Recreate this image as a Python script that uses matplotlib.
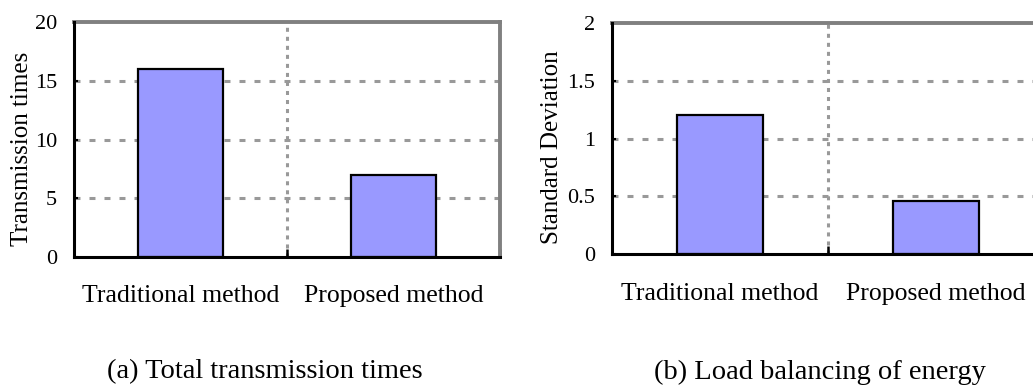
import matplotlib.pyplot as plt

plt.rcParams['font.family'] = ['Liberation Serif', 'DejaVu Serif']
plt.rcParams['lines.scale_dashes'] = False

# data
categories = ['Traditional method', 'Proposed method']
transmission_times = [16, 7]
std_deviation = [1.2, 0.46]

fig = plt.figure(figsize=(10.33, 3.9), dpi=100)

# axes boxes in figure fractions (left, bottom, width, height)
ax1 = fig.add_axes([0.0716, 0.341, 0.4124, 0.6026])
ax2 = fig.add_axes([0.5924, 0.3487, 0.4182, 0.5923])


def style_axes(ax, values, ymax, step, ticklabels, label_pad):
    x = range(len(values))
    ax.bar(x, values, width=0.4, color='#9999ff', edgecolor='black',
           linewidth=1.6, zorder=3)
    ax.set_xlim(-0.5, len(values) - 0.5)
    ax.set_ylim(0, ymax)

    yt = [i * step for i in range(int(round(ymax / step)) + 1)]
    ax.set_yticks(yt, ticklabels)
    ax.set_xticks(list(x), categories)
    ax.set_xticks([0.5, 1.5], minor=True)

    ax.tick_params(axis='y', direction='in', length=3, width=1.5,
                   labelsize=16, pad=12)
    ax.tick_params(axis='x', which='major', length=0, labelsize=18.5,
                   pad=label_pad)
    ax.tick_params(axis='x', which='minor', direction='in', length=6,
                   width=1.8)

    # dashed horizontal grid, dotted vertical divider
    for v in yt[1:-1]:
        ax.axhline(v, color='#999999', linewidth=2.2, dashes=(4.3, 6.5),
                   zorder=1)
    ax.axvline(0.5, color='#999999', linewidth=2.2, dashes=(2.9, 3.6),
               zorder=1)

    for side in ['left', 'bottom']:
        ax.spines[side].set_color('black')
        ax.spines[side].set_linewidth(2.2)
    for side in ['top', 'right']:
        ax.spines[side].set_color('#808080')
        ax.spines[side].set_linewidth(2.8)
    ax.spines['bottom'].set_zorder(4)
    ax.spines['left'].set_zorder(4)


style_axes(ax1, transmission_times, 20, 5,
           ['0', '5', '10', '15', '20'], 20)
style_axes(ax2, std_deviation, 2, 0.5,
           ['0', '0.5', '1', '1.5', '2'], 21)

W, H = 1033, 390
fig.text(22 / W, 1 - 148.5 / H, 'Transmission times', rotation=90,
         ha='center', va='center', fontsize=18)
fig.text(552 / W, 1 - 147 / H, 'Standard Deviation', rotation=90,
         ha='center', va='center', fontsize=18)

fig.text(265 / W, 1 - 372 / H, '(a) Total transmission times',
         ha='center', va='center', fontsize=20.5)
fig.text(820 / W, 1 - 372 / H, '(b) Load balancing of energy',
         ha='center', va='center', fontsize=20.5)

plt.savefig('out.png', dpi=100)
